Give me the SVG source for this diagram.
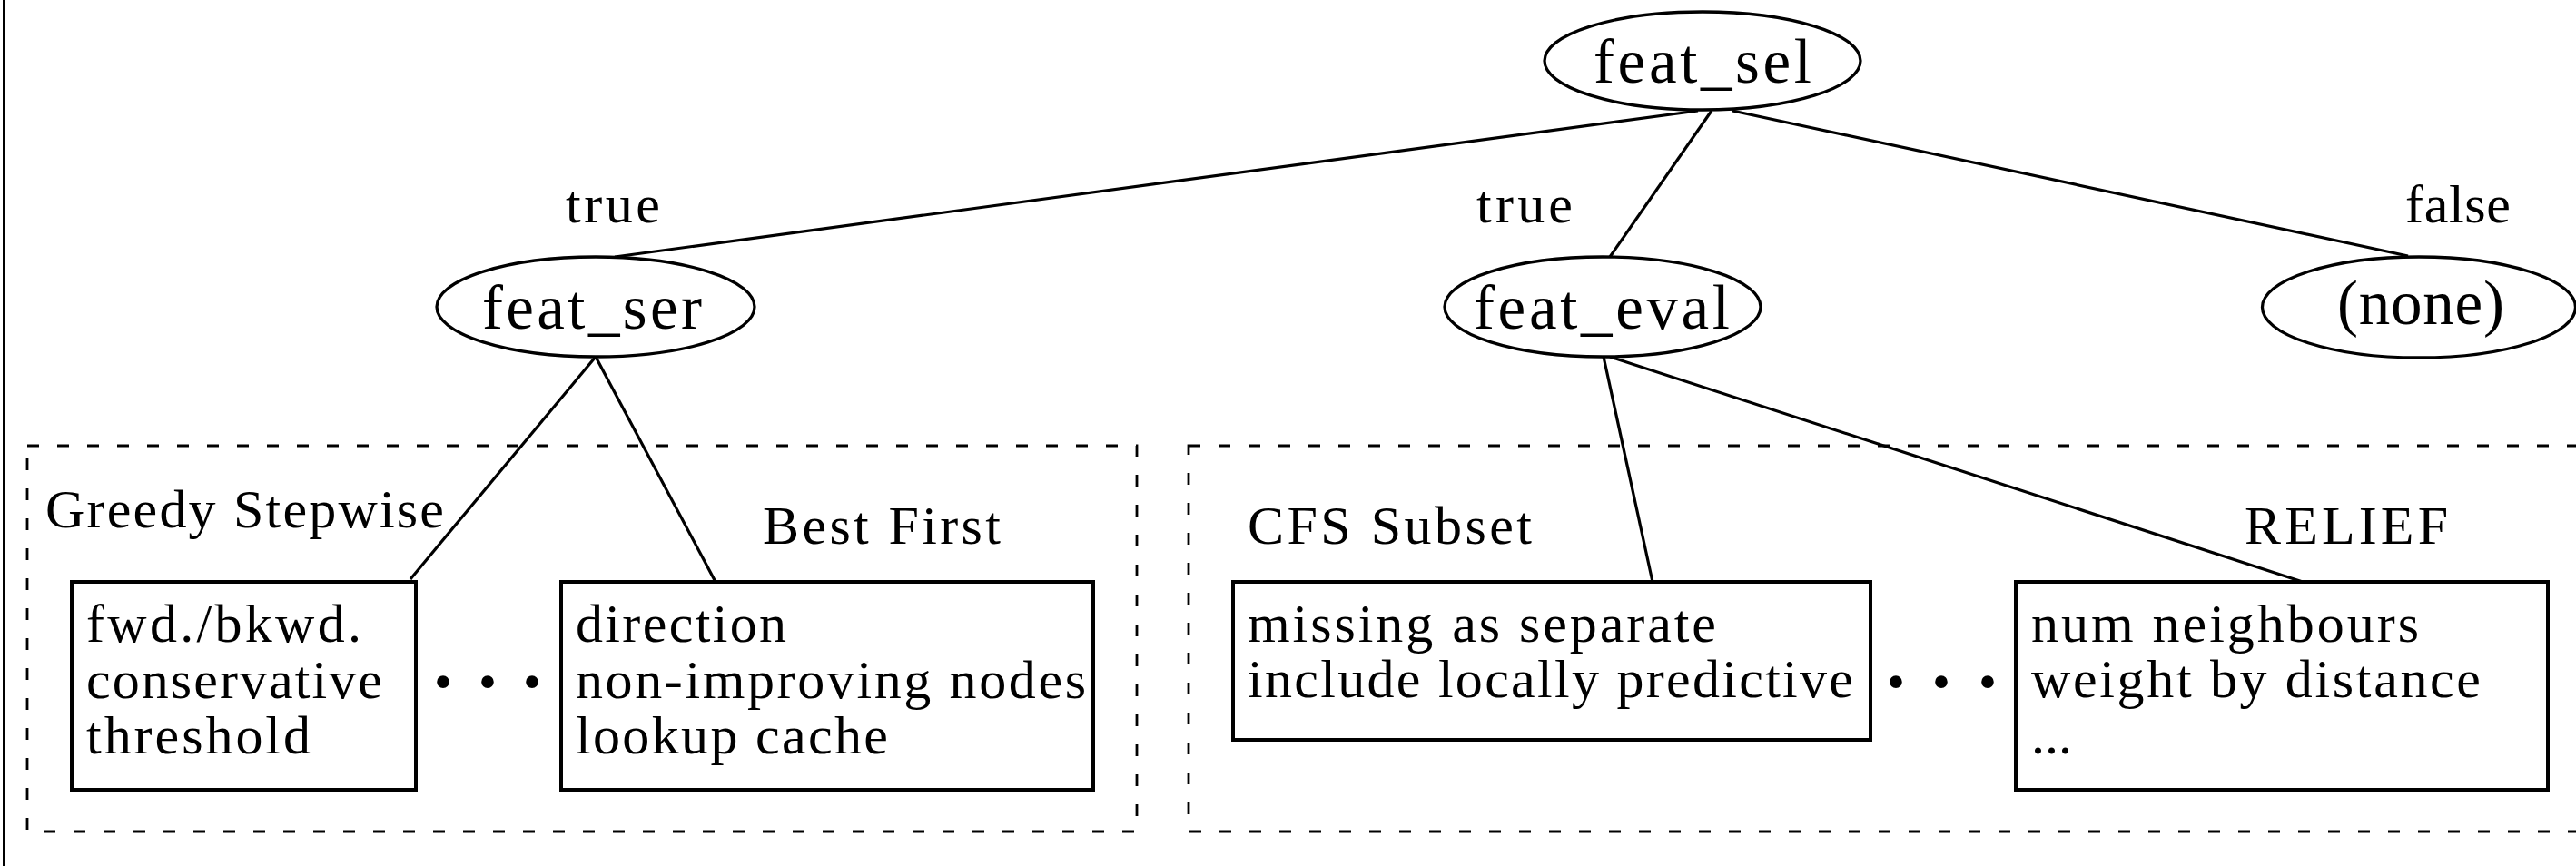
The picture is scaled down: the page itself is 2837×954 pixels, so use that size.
<svg xmlns="http://www.w3.org/2000/svg" width="2837" height="954" viewBox="0 0 2837 954">
<style>
  text { font-family: "Liberation Serif", "Times New Roman", serif; fill: #000; }
  .node { fill: #fff; stroke: #000; stroke-width: 3.3; }
  .box { fill: #fff; stroke: #000; stroke-width: 4; }
  .edge { stroke: #000; stroke-width: 3.2; fill: none; }
  .cluster { fill: none; stroke: #000; stroke-width: 2.8; stroke-dasharray: 13 20; }
  .ntext { font-size: 69px; text-anchor: middle; }
  .lbl { font-size: 60px; }
  .dots { font-size: 84px; text-anchor: middle; font-weight: bold; }
</style>
<rect x="0" y="0" width="2837" height="954" fill="#fff"/>
<line x1="4" y1="0" x2="4" y2="954" stroke="#000" stroke-width="2"/>

<g id="clusters">
  <rect class="cluster" x="30" y="491" width="1222" height="425"/>
  <rect class="cluster" x="1309" y="491" width="1560" height="425"/>
  <text class="lbl" x="50" y="581" textLength="439">Greedy Stepwise</text>
  <text class="lbl" x="840" y="599" textLength="262">Best First</text>
  <text class="lbl" x="1374" y="599" textLength="313">CFS Subset</text>
  <text class="lbl" x="2472" y="599" textLength="224">RELIEF</text>
  <text class="dots" x="488 537 586" y="779">···</text>
  <text class="dots" x="2088 2138 2189" y="779">···</text>
</g>

<g id="connectors">
  <line class="edge" x1="1870" y1="122" x2="677" y2="283"/>
  <line class="edge" x1="1885" y1="122" x2="1773" y2="283"/>
  <line class="edge" x1="1908" y1="122" x2="2652" y2="282"/>
  <line class="edge" x1="656" y1="393" x2="452" y2="638"/>
  <line class="edge" x1="656" y1="393" x2="788" y2="641"/>
  <line class="edge" x1="1766" y1="393" x2="1820" y2="641"/>
  <line class="edge" x1="1773" y1="393" x2="2536" y2="641"/>
  <text class="lbl" x="623" y="245" textLength="104">true</text>
  <text class="lbl" x="1626" y="245" textLength="106">true</text>
  <text class="lbl" x="2649" y="245" textLength="116">false</text>
</g>

<g id="feat_sel">
  <ellipse class="node" cx="1875" cy="67" rx="174" ry="54"/>
  <text class="ntext" x="1875" y="91" textLength="240">feat_sel</text>
</g>
<g id="feat_ser">
  <ellipse class="node" cx="656" cy="338" rx="175" ry="55"/>
  <text class="ntext" x="652" y="362" textLength="242">feat_ser</text>
</g>
<g id="feat_eval">
  <ellipse class="node" cx="1765" cy="338" rx="174" ry="55"/>
  <text class="ntext" x="1764" y="362" textLength="282">feat_eval</text>
</g>
<g id="none">
  <ellipse class="node" cx="2664" cy="338.5" rx="172.5" ry="55.5"/>
  <text class="ntext" x="2666" y="357" textLength="184">(none)</text>
</g>

<g id="greedy">
  <rect class="box" x="79" y="641" width="379" height="229"/>
  <text class="lbl" x="95" y="707" textLength="303">fwd./bkwd.</text>
  <text class="lbl" x="95" y="769" textLength="326">conservative</text>
  <text class="lbl" x="95" y="830" textLength="247">threshold</text>
</g>
<g id="bestfirst">
  <rect class="box" x="618" y="641" width="586" height="229"/>
  <text class="lbl" x="634" y="707" textLength="232">direction</text>
  <text class="lbl" x="634" y="769" textLength="562">non-improving nodes</text>
  <text class="lbl" x="634" y="830" textLength="344">lookup cache</text>
</g>
<g id="cfs">
  <rect class="box" x="1358" y="641" width="702" height="174"/>
  <text class="lbl" x="1374" y="707" textLength="516">missing as separate</text>
  <text class="lbl" x="1374" y="768" textLength="667">include locally predictive</text>
</g>
<g id="relief">
  <rect class="box" x="2220" y="641" width="586" height="229"/>
  <text class="lbl" x="2237" y="707" textLength="427">num neighbours</text>
  <text class="lbl" x="2237" y="768" textLength="495">weight by distance</text>
  <text class="lbl" x="2237" y="830" textLength="45">...</text>
</g>
</svg>
